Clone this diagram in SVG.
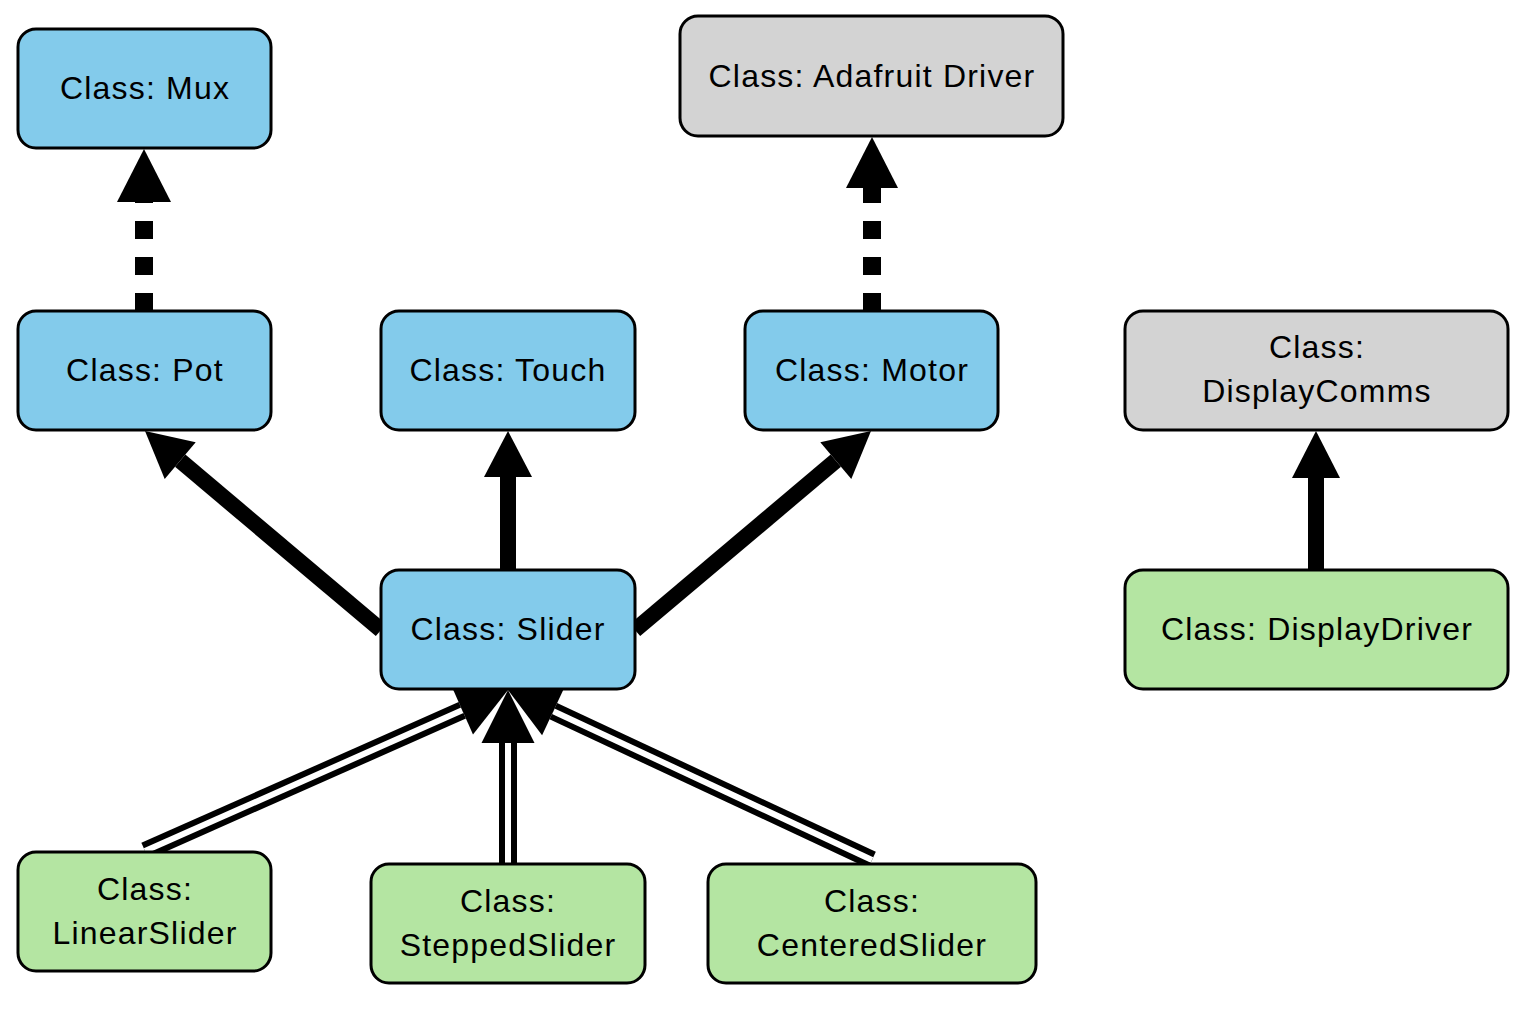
<svg xmlns="http://www.w3.org/2000/svg" width="1526" height="1013" viewBox="0 0 1526 1013">
<style>
.box{stroke:#000;stroke-width:3}
.blue{fill:#83CBEB}
.gray{fill:#D3D3D3}
.green{fill:#B4E5A2}
text{font-family:"Liberation Sans",Arial,sans-serif;font-size:32px;letter-spacing:1.2px;fill:#000;text-anchor:middle}
.solid{stroke:#000;stroke-width:16;fill:none}
.dash{stroke:#000;stroke-width:18;stroke-dasharray:18 18;fill:none}
.dbl-o{stroke:#000;stroke-width:18;fill:none}
.dbl-i{stroke:#fff;stroke-width:6;fill:none}
.head{fill:#000}
</style>
<rect width="1526" height="1013" fill="#fff"/>
<g id="connectors">
  <line class="dash" x1="144" y1="311" x2="144" y2="202"/>
  <polygon class="head" points="144,149 117,202 171,202"/>
  <line class="dash" x1="872" y1="311" x2="872" y2="188"/>
  <polygon class="head" points="872,137 846,188 898,188"/>
  <line class="solid" x1="381" y1="630" x2="180.2" y2="460.7"/>
  <polygon class="head" points="145,431 195.7,442.3 164.7,479"/>
  <line class="solid" x1="508" y1="571" x2="508" y2="476"/>
  <polygon class="head" points="508,431 484,477 532,477"/>
  <line class="solid" x1="635" y1="630" x2="835.8" y2="460.7"/>
  <polygon class="head" points="871,431 820.3,442.3 851.3,479"/>
  <line class="solid" x1="1316" y1="571" x2="1316" y2="477"/>
  <polygon class="head" points="1316,431 1292,478 1340,478"/>
  <line class="dbl-o" x1="145" y1="851" x2="462.3" y2="710.3"/>
  <line class="dbl-i" x1="145" y1="851" x2="462.3" y2="710.3"/>
  <line class="dbl-o" x1="508" y1="864" x2="508" y2="743"/>
  <line class="dbl-i" x1="508" y1="864" x2="508" y2="743"/>
  <line class="dbl-o" x1="872" y1="860" x2="553.3" y2="711.2"/>
  <line class="dbl-i" x1="872" y1="860" x2="553.3" y2="711.2"/>
  <polygon class="head" points="508,690 451.5,686.1 473,734.5"/>
  <polygon class="head" points="508,690 564.5,687.2 542.1,735.2"/>
  <polygon class="head" points="508,690 481.5,743 534.5,743"/>
</g>
<g id="mux"><rect class="box blue" x="18" y="29" width="253" height="119" rx="18"/><text x="145" y="99">Class: Mux</text></g>
<g id="adafruit"><rect class="box gray" x="680" y="16" width="383" height="120" rx="18"/><text x="872" y="87">Class: Adafruit Driver</text></g>
<g id="pot"><rect class="box blue" x="18" y="311" width="253" height="119" rx="18"/><text x="145" y="381">Class: Pot</text></g>
<g id="touch"><rect class="box blue" x="381" y="311" width="254" height="119" rx="18"/><text x="508" y="381">Class: Touch</text></g>
<g id="motor"><rect class="box blue" x="745" y="311" width="253" height="119" rx="18"/><text x="872" y="381">Class: Motor</text></g>
<g id="displaycomms"><rect class="box gray" x="1125" y="311" width="383" height="119" rx="18"/><text x="1317" y="358">Class:</text><text x="1317" y="402">DisplayComms</text></g>
<g id="slider"><rect class="box blue" x="381" y="570" width="254" height="119" rx="18"/><text x="508" y="640">Class: Slider</text></g>
<g id="displaydriver"><rect class="box green" x="1125" y="570" width="383" height="119" rx="18"/><text x="1317" y="640">Class: DisplayDriver</text></g>
<g id="linearslider"><rect class="box green" x="18" y="852" width="253" height="119" rx="18"/><text x="145" y="900">Class:</text><text x="145" y="944">LinearSlider</text></g>
<g id="steppedslider"><rect class="box green" x="371" y="864" width="274" height="119" rx="18"/><text x="508" y="912">Class:</text><text x="508" y="956">SteppedSlider</text></g>
<g id="centeredslider"><rect class="box green" x="708" y="864" width="328" height="119" rx="18"/><text x="872" y="912">Class:</text><text x="872" y="956">CenteredSlider</text></g>
</svg>
